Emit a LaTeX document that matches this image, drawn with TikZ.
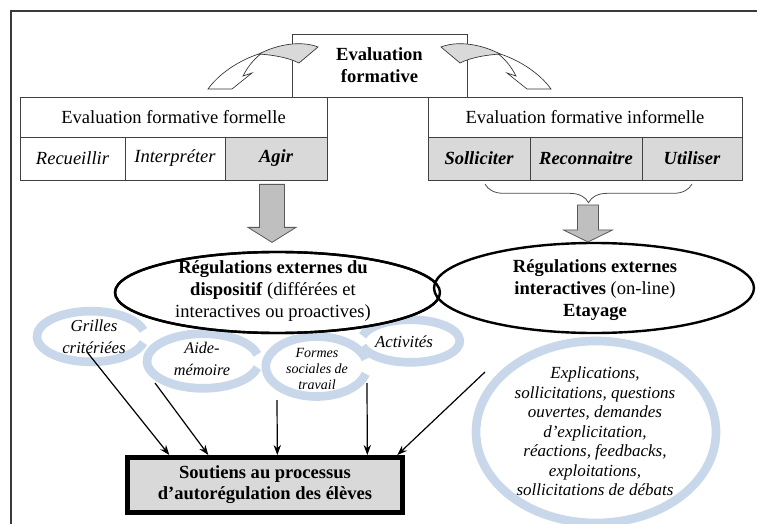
\documentclass[tikz,border=0pt]{standalone}
\usepackage{fontspec}
\setmainfont{Liberation Serif}
\usetikzlibrary{shapes.geometric,decorations.pathreplacing,arrows.meta}
\definecolor{cellgray}{HTML}{D9D9D9}
\definecolor{arrgray}{HTML}{BFBFBF}
\definecolor{ringblue}{HTML}{C9D7EA}
\definecolor{framegray}{HTML}{3A3A3A}
\newcommand\mycurvedarrow{%
  \filldraw[fill=white,draw=black!80,line width=0.5pt]
    (262,53) .. controls (238,60) and (218,75) .. (208,89) -- (232,89) -- (252,73) -- (243,76)
    .. controls (248,66) and (255,58) .. (262,53) -- cycle;
  \filldraw[fill=cellgray,draw=black!80,line width=0.5pt]
    (259,54) .. controls (276,45) and (300,40) .. (318,47) -- (299,63)
    .. controls (287,57) and (272,55) .. (259,54) -- cycle;
}
\begin{document}
\begin{tikzpicture}[x=0.75pt,y=-0.75pt,
  fmain/.style={font=\fontsize{13.9pt}{16.5pt}\selectfont},
  cellbox/.style={draw=black!75,line width=0.6pt,inner sep=0pt,fmain},
  ringline/.style={draw=ringblue,line width=6.5pt},
  thinarrow/.style={draw=black,line width=0.9pt,-{Stealth[length=7.5pt,width=5.5pt]}},
  blockarrow/.style={fill=arrgray,draw=black!65,line width=0.6pt},
  bigell/.style={ellipse,draw=black,line width=1.8pt,fill=white,inner sep=0pt},
  ringtext/.style={align=center,inner sep=0pt},
]
\useasboundingbox (0,0) rectangle (757,524);
\fill[white] (0,0) rectangle (757,524);
\draw[framegray,line width=1.2pt] (11,530) -- (11,11) -- (765,11);

% ---- rings (background)
\coordinate (r1) at (91,336.5);
\coordinate (r2) at (203,361);
\coordinate (r3) at (316.5,366.5);
\coordinate (r4) at (410.5,341);
\coordinate (r5) at (596,432);
\draw[ringline] (r1) ++(14:40.5pt and 19pt) arc[start angle=14,end angle=346,x radius=40.5pt,y radius=19pt];
\draw[ringline] (r2) ++(14:42pt and 20.5pt) arc[start angle=14,end angle=346,x radius=42pt,y radius=20.5pt];
\draw[ringline] (r3) ++(14:38pt and 22.5pt) arc[start angle=14,end angle=346,x radius=38pt,y radius=22.5pt];
\draw[ringline] (r4) ++(-166:37pt and 16pt) arc[start angle=-166,end angle=166,x radius=37pt,y radius=16pt];
\draw[ringline] (r5) ellipse[x radius=90pt,y radius=68.25pt];

% ---- top box
\node[cellbox,minimum width=131.25pt,minimum height=47.25pt,align=center,font=\fontsize{13.9pt}{16.5pt}\selectfont\bfseries] (top) at (379.5,65.5) {Evaluation\\formative};

% ---- formal
\node[cellbox,minimum width=230.25pt,minimum height=30pt] (formelle) at (173.5,117) {Evaluation formative formelle};
\node[cellbox,minimum width=78.75pt,minimum height=32.25pt,font=\fontsize{13.9pt}{16.5pt}\selectfont\itshape] (recueillir) at (72.5,158.5) {Recueillir};
\node[cellbox,minimum width=75pt,minimum height=32.25pt,font=\fontsize{13.9pt}{16.5pt}\selectfont\itshape] (interpreter) at (175,158.5) {Interpréter};
\node[cellbox,fill=cellgray,minimum width=76.5pt,minimum height=32.25pt,font=\fontsize{13.9pt}{16.5pt}\selectfont\bfseries\itshape] (agir) at (276,158.5) {Agir};

% ---- informal
\node[cellbox,minimum width=235.5pt,minimum height=30pt] (informelle) at (585,117) {Evaluation formative informelle};
\node[cellbox,fill=cellgray,minimum width=76.5pt,minimum height=32.25pt,font=\fontsize{13.9pt}{16.5pt}\selectfont\bfseries\itshape] (solliciter) at (479,158.5) {Solliciter};
\node[cellbox,fill=cellgray,minimum width=84pt,minimum height=32.25pt,font=\fontsize{13.9pt}{16.5pt}\selectfont\bfseries\itshape] (reconnaitre) at (586,158.5) {Reconnaitre};
\node[cellbox,fill=cellgray,minimum width=75pt,minimum height=32.25pt,font=\fontsize{13.9pt}{16.5pt}\selectfont\bfseries\itshape] (utiliser) at (692,158.5) {Utiliser};

% ---- curved arrows
\mycurvedarrow
\begin{scope}[shift={(759,0)},xscale=-1]
\mycurvedarrow
\end{scope}

% ---- brace
\draw[decorate,decoration={brace,amplitude=14pt},draw=black!70,line width=0.6pt] (692,184) -- (485,184);
\coordinate (bt) at (588,205);

% ---- ellipses
\node[bigell,minimum width=243.75pt,minimum height=60.75pt] (e1) at (277.5,292.5) {};
\node[bigell,minimum width=240pt,minimum height=67.5pt] (e2) at (594,288) {};
\draw[line width=1.8pt] (e1.center) ellipse[x radius=121.875pt,y radius=30.375pt];
\node[align=center,fmain,inner sep=0pt] (e1t) at (273,291) {\textbf{Régulations externes du}\\\textbf{dispositif} (différées et\\interactives ou proactives)};
\node[align=center,fmain,inner sep=0pt] (e2t) at (595,290) {\textbf{Régulations externes}\\\textbf{interactives} (on-line)\\\textbf{Etayage}};

% ---- block arrows
\draw[blockarrow] ([xshift=-3pt,yshift=-3pt]agir.south) ++(-12.5,0) -- ++(25,0) -- ++(0,43) -- ++(11.5,0) -- ++(-24,15) -- ++(-24,-15) -- ++(11.5,0) -- cycle;
\draw[blockarrow] (bt) ++(-10.5,0) -- ++(21,0) -- ++(0,25) -- ++(14,0) -- ++(-24.5,12) -- ++(-24.5,-12) -- ++(14,0) -- cycle;

% ---- ring texts
\node[ringtext,font=\fontsize{12.6pt}{16.5pt}\selectfont\itshape] (t1) at (94,337) {Grilles\\critériées};
\node[ringtext,font=\fontsize{12.2pt}{16.5pt}\selectfont\itshape] (t2) at (202,359) {Aide-\\mémoire};
\node[ringtext,font=\fontsize{10.5pt}{12.2pt}\selectfont\itshape] (t3) at (317,369) {Formes\\sociales de\\travail};
\node[ringtext,font=\fontsize{12.6pt}{15pt}\selectfont\itshape] (t4) at (404,342) {Activités};
\node[ringtext,font=\fontsize{12.75pt}{14.6pt}\selectfont\itshape] (t5) at (595,431.5) {Explications,\\sollicitations, questions\\ouvertes, demandes\\d’explicitation,\\réactions, feedbacks,\\exploitations,\\sollicitations de débats};

% ---- bottom box
\node[draw=black,line width=3.5pt,fill=cellgray,minimum width=206pt,minimum height=41.5pt,inner sep=0pt,align=center,font=\fontsize{13.9pt}{15.8pt}\selectfont\bfseries] (sout) at (265,485) {Soutiens au processus\\d’autorégulation des élèves};

% ---- thin arrows
\coordinate (s1) at (87,352);
\coordinate (s2) at (155,383);
\coordinate (s3) at (277,400);
\coordinate (s4) at (367,383);
\coordinate (s5) at (485,372);
\draw[thinarrow] (s1) -- ([xshift=33pt]sout.north west);
\draw[thinarrow] (s2) -- ([xshift=62.25pt]sout.north west);
\draw[thinarrow] (s3) -- ([xshift=114pt]sout.north west);
\draw[thinarrow] (s4) -- ([xshift=181.5pt]sout.north west);
\draw[thinarrow] (s5) -- ([xshift=204pt]sout.north west);
\end{tikzpicture}
\end{document}
